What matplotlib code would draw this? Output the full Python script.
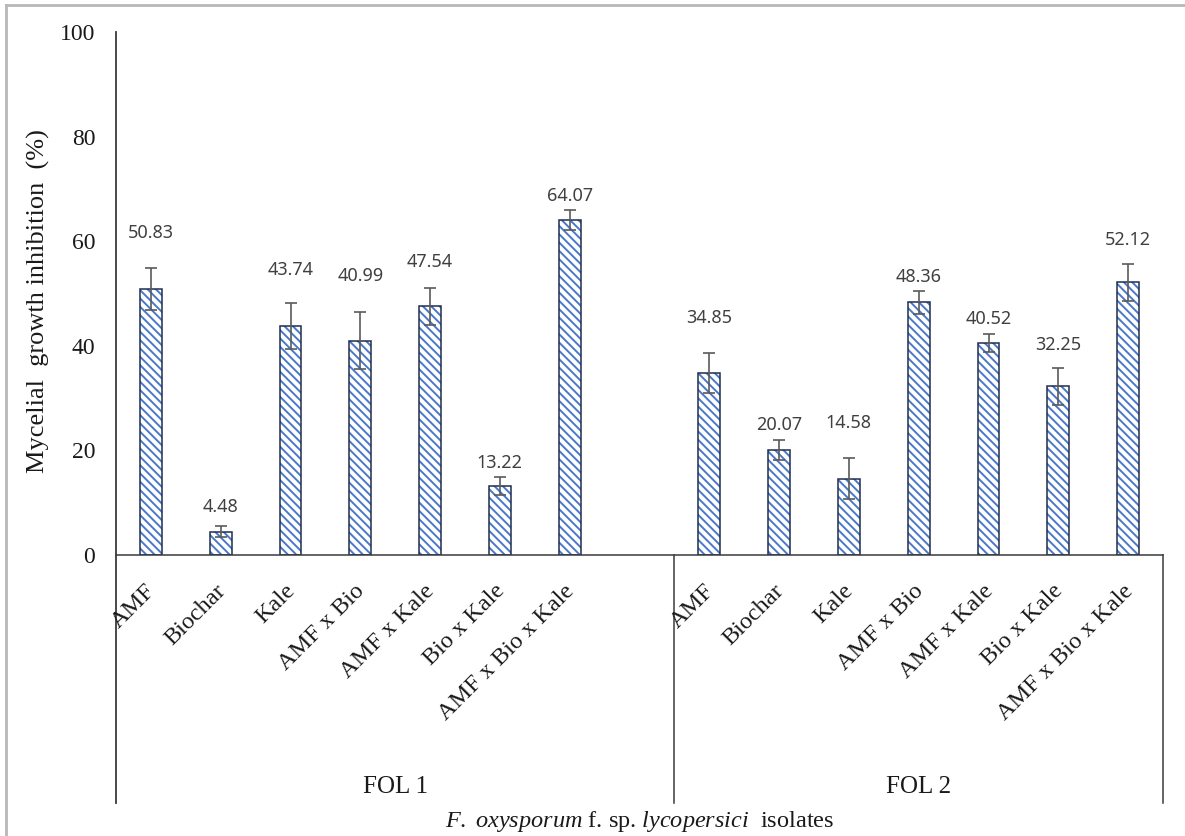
import numpy as np
import matplotlib
matplotlib.use("Agg")
import matplotlib.pyplot as plt
from matplotlib.lines import Line2D

# treatments and isolates
treatments = ["AMF", "Biochar", "Kale", "AMF x Bio", "AMF x Kale", "Bio x Kale", "AMF x Bio x Kale"]
isolates = ["FOL 1", "FOL 2"]

# mean inhibition (%) and standard error
fol1_mean = [50.83, 4.48, 43.74, 40.99, 47.54, 13.22, 64.07]
fol1_err = [4.0, 1.0, 4.4, 5.5, 3.5, 1.7, 1.9]
fol2_mean = [34.85, 20.07, 14.58, 48.36, 40.52, 32.25, 52.12]
fol2_err = [3.8, 1.9, 3.9, 2.2, 1.7, 3.5, 3.5]

# heights at which the value labels sit
fol1_label_y = [61.6, 9.2, 54.5, 53.3, 56.1, 17.5, 68.6]
fol2_label_y = [45.3, 24.9, 25.2, 53.2, 45.1, 40.2, 60.2]

W, H = 1185, 836
plt.rcParams["hatch.linewidth"] = 1.4
plt.rcParams["mathtext.fontset"] = "custom"
plt.rcParams["mathtext.rm"] = "Liberation Serif"
plt.rcParams["mathtext.it"] = "Liberation Serif:italic"

fig = plt.figure(figsize=(W / 100, H / 100), dpi=100)
ax = fig.add_axes([116 / W, 1 - 555 / H, (1163 - 116) / W, 523 / H])

# FOL 1 gets an extra blank slot before FOL 2 starts
x1 = np.arange(7) + 0.5
x2 = 8 + np.arange(7) + 0.5
bar_w = 0.31
line_col = "#3a3a3a"
text_col = "#1a1a1a"
serif = "Liberation Serif"

for xs, means, errs, ly in [(x1, fol1_mean, fol1_err, fol1_label_y),
                            (x2, fol2_mean, fol2_err, fol2_label_y)]:
    ax.bar(xs, means, width=bar_w, color="white", edgecolor="#4a78c8",
           hatch="\\\\\\\\", linewidth=0, zorder=2)
    ax.bar(xs, means, width=bar_w, fill=False, edgecolor="#1f2d50",
           linewidth=1.1, zorder=3)
    ax.errorbar(xs, means, yerr=errs, fmt="none", ecolor="#5a5a5a",
                elinewidth=1.2, capsize=4, capthick=1.2, zorder=4)
    for x, m, y in zip(xs, means, ly):
        ax.text(x, y, f"{m:.2f}", ha="center", va="center", fontsize=13,
                family="Noto Sans", color="#404040")
    for x, name in zip(xs, treatments):
        ax.text(x + 0.02, -6.3, name, rotation=45, ha="right", va="center",
                rotation_mode="anchor", fontsize=17.5, family=serif, color=text_col)

ax.set_xlim(0, 15)
ax.set_ylim(0, 100)
for s in ax.spines.values():
    s.set_visible(False)
ax.set_xticks([])
ax.set_yticks(range(0, 101, 20))
ax.tick_params(axis="y", length=0, pad=15, labelsize=17, labelcolor=text_col)
for lab in ax.get_yticklabels():
    lab.set_family(serif)

# axis frame and group separators
bottom = -47.4
ax.plot([0, 15], [0, 0], color=line_col, lw=1.1, clip_on=False, zorder=5)
ax.plot([0, 0], [100, bottom], color=line_col, lw=1.3, clip_on=False)
ax.plot([8, 8], [0, bottom], color=line_col, lw=1.1, clip_on=False)
ax.plot([15, 15], [0, bottom], color=line_col, lw=1.1, clip_on=False)

ax.text(4, -44.4, isolates[0], ha="center", va="center", fontsize=18, family=serif, color=text_col)
ax.text(11.5, -44.4, isolates[1], ha="center", va="center", fontsize=18, family=serif, color=text_col)

fig.text(38 / W, 1 - 301 / H, "Mycelial  growth inhibition  (%)", rotation=90,
         ha="center", va="center", fontsize=19, family=serif, color=text_col)
fig.text(640 / W, 1 - 821 / H,
         r"$\mathit{F.\ oxysporum}$ f. sp. $\mathit{lycopersici}$  isolates",
         ha="center", va="center", fontsize=17.5, family=serif, color=text_col)

# light frame around the figure
fig.add_artist(Line2D([6 / W, 6 / W], [0, 1 - 5 / H], color="#b8b8b8", lw=2))
fig.add_artist(Line2D([6 / W, 1], [1 - 5 / H, 1 - 5 / H], color="#b8b8b8", lw=2))

fig.savefig("out.png", dpi=100, facecolor="white")
